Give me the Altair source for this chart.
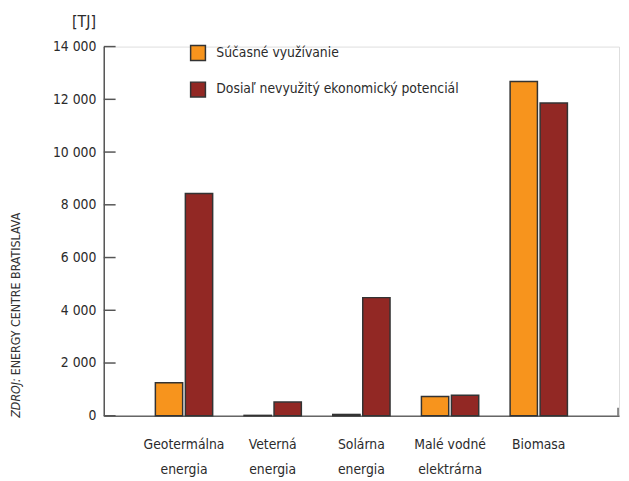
import altair as alt
import pandas as pd

categories = ["Geotermálna|energia", "Veterná|energia", "Solárna|energia", "Malé vodné|elektrárna", "Biomasa"]
series_names = ["Súčasné využívanie", "Dosiaľ nevyužitý ekonomický potenciál"]
current_use = [1250, 15, 50, 730, 12680]
potential = [8430, 520, 4480, 780, 11860]
y_ticks = [0, 2000, 4000, 6000, 8000, 10000, 12000, 14000]

rows = []
for c, a, b in zip(categories, current_use, potential):
    rows.append({"cat": c, "series": series_names[0], "value": a})
    rows.append({"cat": c, "series": series_names[1], "value": b})
df = pd.DataFrame(rows)
ticks_df = pd.DataFrame({"v": y_ticks})

FONT = "DejaVu Sans Condensed, sans-serif"
W, H = 522, 374

yscale = alt.Scale(domain=[0, 14000], nice=False)

bars = alt.Chart(df).mark_bar(stroke="#333333", strokeWidth=1.5).encode(
    x=alt.X("cat:N", sort=categories,
            scale=alt.Scale(paddingInner=0.354, paddingOuter=0.582),
            axis=alt.Axis(title=None, labelExpr="split(datum.label, '|')",
                          labelAngle=0, ticks=False, labelPadding=33,
                          labelFont=FONT, labelFontSize=14, labelColor="#2b2b2b",
                          labelLineHeight=25, domainColor="#666666", domainWidth=1.5,
                          labelBaseline="alphabetic")),
    xOffset=alt.XOffset("series:N", sort=series_names,
                        scale=alt.Scale(paddingInner=0.09, paddingOuter=0)),
    y=alt.Y("value:Q", scale=yscale,
            axis=alt.Axis(title=None, values=y_ticks, ticks=False, grid=False,
                          labelExpr="replace(format(datum.value, ','), ',', ' ')",
                          labelFont=FONT, labelFontSize=14, labelColor="#2b2b2b",
                          labelPadding=8, domainColor="#555555", domainWidth=1.5)),
    color=alt.Color("series:N", sort=series_names,
                    scale=alt.Scale(domain=series_names, range=["#F7941D", "#922824"]),
                    legend=alt.Legend(title=None, orient="none", legendX=87, legendY=-2,
                                      symbolType="square", symbolSize=225,
                                      symbolStrokeColor="#333333", symbolStrokeWidth=1.5,
                                      symbolOpacity=1, labelLimit=0,
                                      labelFont=FONT, labelFontSize=14, labelColor="#2b2b2b",
                                      rowPadding=16, labelOffset=10)),
)

yticks = alt.Chart(ticks_df).mark_rule(color="#555555", strokeWidth=1.5).encode(
    y=alt.Y("v:Q", scale=yscale),
    x=alt.value(0), x2=alt.value(12),
)

right_tick = alt.Chart(ticks_df.head(1)).mark_rule(color="#666666", strokeWidth=1.5).encode(
    x=alt.value(W - 1), y=alt.value(H - 8), y2=alt.value(H),
)

unit = alt.Chart(ticks_df.head(1)).mark_text(
    text="[TJ]", font=FONT, fontSize=16, color="#2b2b2b", align="center", baseline="middle"
).encode(x=alt.value(-20), y=alt.value(-25))

src1 = alt.Chart(ticks_df.head(1)).mark_text(
    text="ZDROJ:", font=FONT, fontSize=12.5, fontStyle="italic", color="#333333",
    align="left", baseline="middle", angle=270
).encode(x=alt.value(-89), y=alt.value(H + 2))

src2 = alt.Chart(ticks_df.head(1)).mark_text(
    text="ENERGY CENTRE BRATISLAVA", font=FONT, fontSize=12.5, color="#333333",
    align="left", baseline="middle", angle=270
).encode(x=alt.value(-89), y=alt.value(H - 41))

chart = alt.layer(bars, yticks, right_tick, unit, src1, src2).properties(
    width=W, height=H,
    autosize=alt.AutoSizeParams(type="none"),
    padding={"left": 97, "top": 36, "right": 2, "bottom": 63},
).configure_view(stroke=None).configure(background="white")

chart.save("out.html", embed_options={"renderer": "svg", "actions": False})
